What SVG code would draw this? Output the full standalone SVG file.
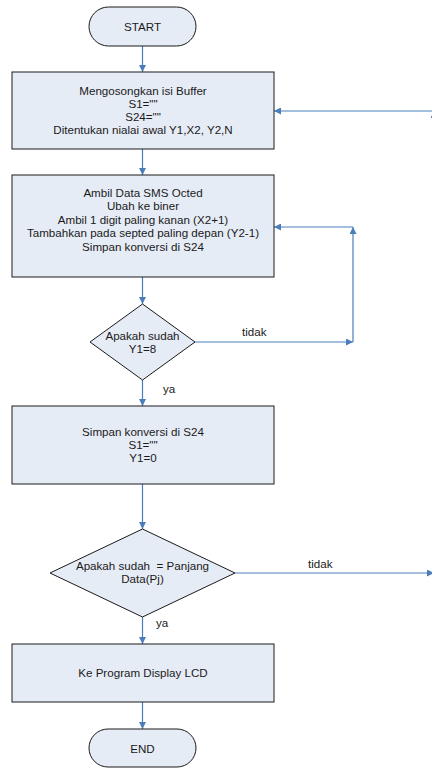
<svg xmlns="http://www.w3.org/2000/svg" width="432" height="768" viewBox="0 0 432 768">
  <style>
    .shape { fill: #e6ecf6; stroke: #1a1a1a; stroke-width: 1; }
    .lbl { font-family: "Liberation Sans", Arial, sans-serif; font-size: 11.6px; fill: #1a1a1a; text-anchor: middle; white-space: pre; }
    .tag { font-family: "Liberation Sans", Arial, sans-serif; font-size: 11.6px; fill: #1a1a1a; }
    .wire { fill: none; stroke: #4a7ebb; stroke-width: 1.2; }
  </style>
  <defs>
    <marker id="arrow" viewBox="0 0 10 10" refX="10" refY="5" markerWidth="7" markerHeight="7" markerUnits="userSpaceOnUse" orient="auto">
      <path d="M0,0 L10,5 L0,10 Z" fill="#4a7ebb"/>
    </marker>
  </defs>

  <rect width="432" height="768" fill="#ffffff"/>

  <!-- connectors and their yes/no labels -->
  <g id="connectors">
    <path class="wire" d="M142.5,46 V72" marker-end="url(#arrow)"/>
    <path class="wire" d="M142.5,149 V175" marker-end="url(#arrow)"/>
    <path class="wire" d="M142.5,277 V304" marker-end="url(#arrow)"/>
    <path class="wire" d="M195,342 H353" marker-end="url(#arrow)"/>
    <path class="wire" d="M353,342 V227" marker-end="url(#arrow)"/>
    <path class="wire" d="M353,227 H274" marker-end="url(#arrow)"/>
    <path class="wire" d="M142.5,380 V406" marker-end="url(#arrow)"/>
    <path class="wire" d="M142.5,484 V529" marker-end="url(#arrow)"/>
    <path class="wire" d="M235,573 H434" marker-end="url(#arrow)"/>
    <path class="wire" d="M434,573 V111" marker-end="url(#arrow)"/>
    <path class="wire" d="M434,111 H274" marker-end="url(#arrow)"/>
    <path class="wire" d="M142.5,617 V644" marker-end="url(#arrow)"/>
    <path class="wire" d="M142.5,702 V729" marker-end="url(#arrow)"/>
    <text class="tag" x="242" y="336">tidak</text>
    <text class="tag" x="163" y="393">ya</text>
    <text class="tag" x="308" y="568">tidak</text>
    <text class="tag" x="156" y="627">ya</text>
  </g>

  <g id="start">
    <rect class="shape" x="89" y="7" width="107" height="39" rx="19.5"/>
    <text class="lbl" x="142.5" y="31">START</text>
  </g>

  <g id="init-buffer">
    <rect class="shape" x="12" y="72" width="262" height="77"/>
    <text class="lbl" x="143" y="95">Mengosongkan isi Buffer</text>
    <text class="lbl" x="143" y="108">S1=&quot;&quot;</text>
    <text class="lbl" x="143" y="121">S24=&quot;&quot;</text>
    <text class="lbl" x="143" y="134">Ditentukan nialai awal Y1,X2, Y2,N</text>
  </g>

  <g id="convert-sms">
    <rect class="shape" x="12" y="175" width="262" height="102"/>
    <text class="lbl" x="143" y="196.5">Ambil Data SMS Octed</text>
    <text class="lbl" x="143" y="210">Ubah ke biner</text>
    <text class="lbl" x="143" y="223.5">Ambil 1 digit paling kanan (X2+1)</text>
    <text class="lbl" x="143" y="237">Tambahkan pada septed paling depan (Y2-1)</text>
    <text class="lbl" x="143" y="250.5">Simpan konversi di S24</text>
  </g>

  <g id="check-y1">
    <polygon class="shape" points="142.5,304 195,342 142.5,380 90,342"/>
    <text class="lbl" x="142.5" y="339.5">Apakah sudah</text>
    <text class="lbl" x="142.5" y="353">Y1=8</text>
  </g>

  <g id="store-s24">
    <rect class="shape" x="12" y="406" width="262" height="78"/>
    <text class="lbl" x="143" y="436">Simpan konversi di S24</text>
    <text class="lbl" x="143" y="449">S1=&quot;&quot;</text>
    <text class="lbl" x="143" y="462">Y1=0</text>
  </g>

  <g id="check-length">
    <polygon class="shape" points="142.5,529 235,573 142.5,617 50,573"/>
    <text class="lbl" x="142.5" y="570" xml:space="preserve">Apakah sudah  = Panjang</text>
    <text class="lbl" x="142.5" y="583">Data(Pj)</text>
  </g>

  <g id="display-lcd">
    <rect class="shape" x="12" y="644" width="262" height="58"/>
    <text class="lbl" x="143" y="677">Ke Program Display LCD</text>
  </g>

  <g id="end">
    <rect class="shape" x="89" y="729" width="107" height="38" rx="19"/>
    <text class="lbl" x="142.5" y="753">END</text>
  </g>
</svg>
